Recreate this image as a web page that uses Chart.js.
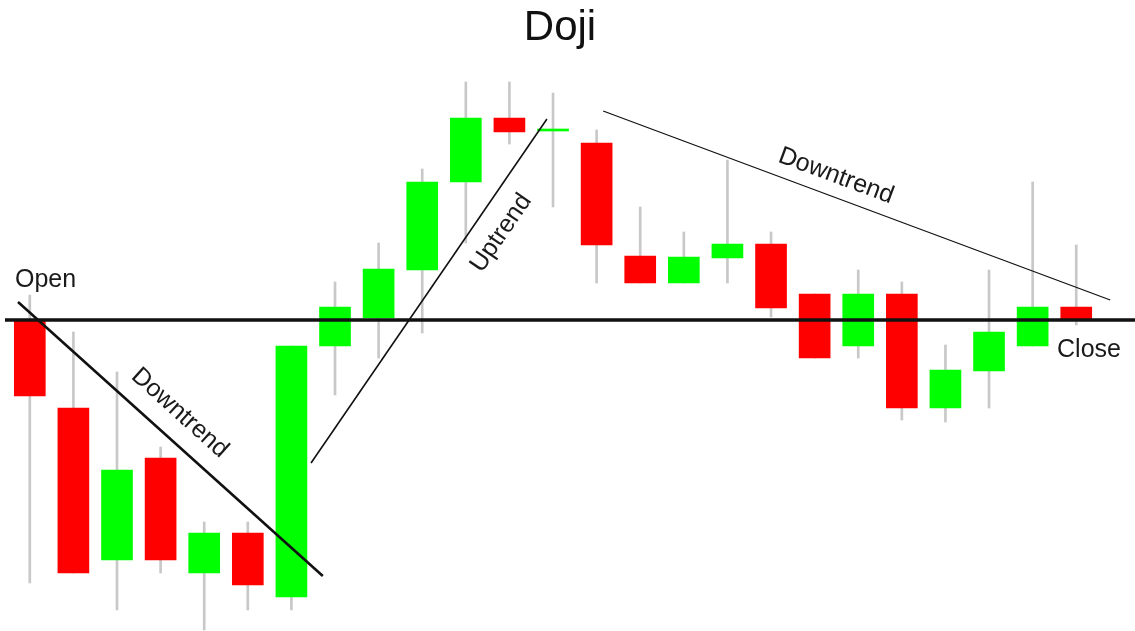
<!doctype html>
<html lang="en">
<head>
    <meta charset="utf-8">
    <title>Doji</title>
    <script src="https://cdn.jsdelivr.net/npm/chart.js@4.4.1/dist/chart.umd.min.js"></script>
    <style>
        html, body { margin: 0; padding: 0; background: #fff; }
        #chartContainer { width: 1135px; height: 631px; }
    </style>
</head>
<body>
<div id="chartContainer"><canvas id="myChart"></canvas></div>
<script type="text/javascript">
    // candle prices, one per session (25 sessions)
    const opens  = [77.75, 55.75, 17.75, 43.25, 14.5, 24.5, 8.5, 71.25, 78.25, 90.25, 112.25, 128.25, 125,
                    122, 93.75, 87, 93.25, 96.75, 84.25, 71.25, 84.25, 55.75, 65, 71.25, 81];
    const closes = [58.75, 14.5, 40.25, 17.75, 24.5, 11.5, 71.25, 81, 90.5, 112.25, 128.25, 124.75, 125,
                    96.5, 87, 93.5, 96.75, 80.75, 68.25, 84.25, 55.75, 65.25, 74.75, 81, 77.75];
    const highs  = [84, 74.75, 64.75, 46, 27.25, 27.25, 71.25, 87.25, 97, 115.5, 137.25, 137.25, 134.5,
                    125.25, 106, 99.75, 117.75, 99.75, 84.25, 90.25, 87.25, 71.5, 90.25, 112.25, 96.5];
    const lows   = [12, 14.5, 5.25, 14.5, 0.25, 5.25, 5.25, 59, 68.25, 74.5, 97, 121.75, 106,
                    87, 87, 87, 87, 78.5, 68.25, 68.25, 52.75, 52.25, 55.75, 71.25, 76.5];

    // open of the first session = close of the last one
    const levelPrice = 77.75;

    // trend lines, [session, price] end points
    const downtrendA = [[-0.27, 82.25], [6.72, 13.75]];
    const uptrend    = [[6.45, 42], [11.86, 128]];
    const downtrendB = [[13.15, 130], [24.78, 82.75]];

    const UP = '#00ff00';
    const DOWN = '#ff0000';
    const FONT = '"Liberation Sans", Arial, sans-serif';

    const toXY = pts => pts.map(p => ({x: p[0], y: p[1]}));

    const notes = [
        {text: 'Open', x: -0.34, y: 86, angle: 0, align: 'left', baseline: 'alphabetic'},
        {text: 'Close', x: 23.56, y: 68.5, angle: 0, align: 'left', baseline: 'alphabetic'},
        {text: 'Downtrend', x: 3.44, y: 54.5, angle: 41.9, align: 'center', baseline: 'middle'},
        {text: 'Uptrend', x: 10.81, y: 99.5, angle: -55.5, align: 'center', baseline: 'middle'},
        {text: 'Downtrend', x: 18.49, y: 113.75, angle: 20.4, align: 'center', baseline: 'middle'}
    ];

    const overlay = {
        id: 'overlay',
        afterDatasetsDraw(chart) {
            const {ctx, scales: {x, y}} = chart;
            ctx.save();
            const ly = y.getPixelForValue(levelPrice);
            ctx.strokeStyle = '#111';
            ctx.lineWidth = 3.5;
            ctx.beginPath();
            ctx.moveTo(5, ly);
            ctx.lineTo(chart.width, ly);
            ctx.stroke();

            ctx.font = '25px ' + FONT;
            ctx.fillStyle = '#1a1a1a';
            notes.forEach(n => {
                ctx.save();
                ctx.translate(x.getPixelForValue(n.x), y.getPixelForValue(n.y));
                ctx.rotate(n.angle * Math.PI / 180);
                ctx.textAlign = n.align;
                ctx.textBaseline = n.baseline;
                ctx.fillText(n.text, 0, 0);
                ctx.restore();
            });
            ctx.restore();
        }
    };

    const trendLine = (pts, width) => ({
        type: 'line',
        data: toXY(pts),
        borderColor: '#111',
        borderWidth: width,
        pointRadius: 0,
        tension: 0,
        order: 0
    });

    new Chart(document.getElementById('myChart'), {
        type: 'bar',
        data: {
            datasets: [
                trendLine(downtrendA, 2.6),
                trendLine(uptrend, 1.6),
                trendLine(downtrendB, 1.3),
                {
                    label: 'body',
                    data: opens.map((o, i) => ({x: i, y: [o, closes[i]]})),
                    backgroundColor: opens.map((o, i) => closes[i] >= o ? UP : DOWN),
                    barThickness: 31,
                    minBarLength: 2,
                    grouped: false,
                    order: 1
                },
                {
                    label: 'wick',
                    data: lows.map((l, i) => ({x: i, y: [l, highs[i]]})),
                    backgroundColor: '#c8c8c8',
                    barThickness: 2,
                    grouped: false,
                    order: 2
                }
            ]
        },
        options: {
            responsive: true,
            maintainAspectRatio: false,
            animation: false,
            layout: {padding: {left: 8, right: 23, top: 0, bottom: 0}},
            scales: {
                x: {type: 'linear', min: -0.5, max: 24.82, offset: false, display: false},
                y: {min: 0, max: 142, display: false}
            },
            plugins: {
                legend: {display: false},
                tooltip: {enabled: false},
                title: {
                    display: true,
                    text: 'Doji',
                    color: '#111',
                    font: {size: 42, family: FONT, weight: 'normal'},
                    padding: {top: 3, bottom: 9.6}
                }
            }
        },
        plugins: [overlay]
    });
</script>
</body>
</html>
